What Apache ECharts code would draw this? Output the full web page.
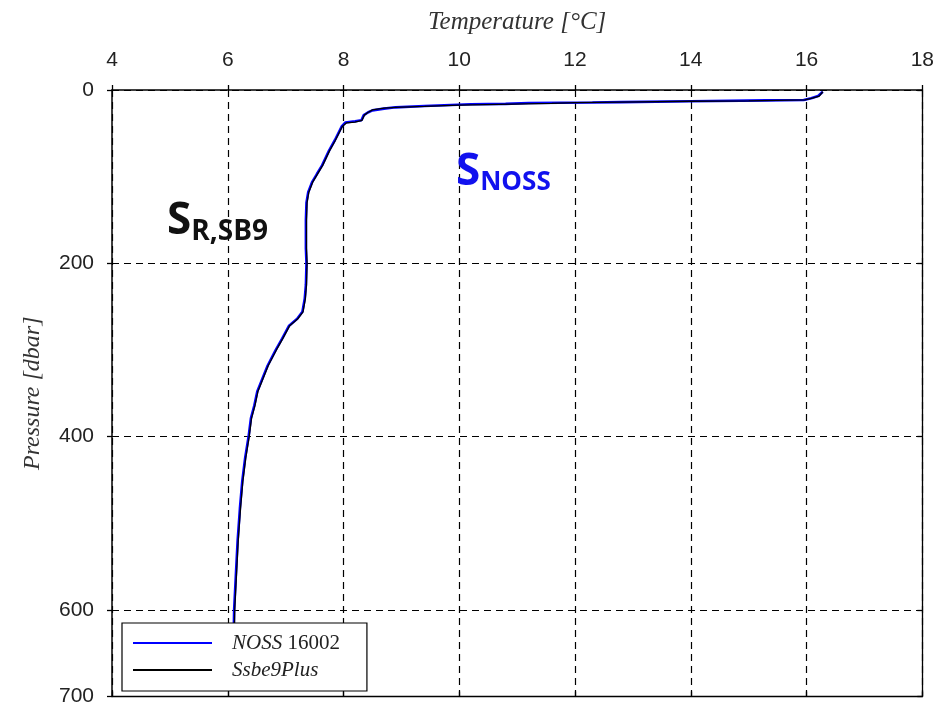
<!DOCTYPE html>
<html>
<head>
<meta charset="utf-8">
<script src="https://cdn.jsdelivr.net/npm/echarts@6/dist/echarts.min.js"></script>
<style>
html,body{margin:0;padding:0;background:#fff;}
#chart{width:937px;height:707px;}
</style>
</head>
<body>
<div id="chart"></div>
<script>
// Tick values
const xTicks = [4, 6, 8, 10, 12, 14, 16, 18];
const yTicks = [0, 200, 400, 600, 700];

// NOSS 16002 profile (blue)
const nossTemp = [16.28, 16.25, 16.20, 16.08, 15.95, 15.30, 14.00, 12.80, 12.30, 11.20, 10.80, 10.20, 9.40, 8.90, 8.70, 8.50, 8.42, 8.35, 8.31, 8.20, 8.03, 7.97, 7.91, 7.85, 7.75, 7.63, 7.54, 7.46, 7.39, 7.36, 7.35, 7.35, 7.36, 7.35, 7.33, 7.29, 7.20, 7.06, 6.94, 6.83, 6.69, 6.60, 6.51, 6.46, 6.40, 6.36, 6.30, 6.25, 6.21, 6.17, 6.14, 6.11, 6.10];
const nossPres = [2, 4, 7, 9.5, 11.5, 12, 13, 14, 14.5, 15, 16, 16.5, 18.5, 20, 21.5, 23.5, 26, 29, 35, 36, 37.5, 42, 50, 58, 70, 87, 97, 106, 118, 130, 150, 183, 200, 225, 241, 256, 264, 272, 287, 300, 318, 333, 348, 364, 379, 400, 425, 452, 483, 521, 560, 600, 640];

// Ssbe9Plus profile (black)
const sbeTemp = [16.28, 16.26, 16.22, 16.10, 15.97, 15.00, 14.00, 12.80, 12.00, 11.60, 10.70, 10.00, 9.40, 8.90, 8.70, 8.50, 8.42, 8.36, 8.32, 8.20, 8.05, 7.98, 7.92, 7.86, 7.76, 7.64, 7.55, 7.47, 7.40, 7.37, 7.36, 7.36, 7.37, 7.36, 7.34, 7.30, 7.21, 7.07, 6.95, 6.84, 6.70, 6.61, 6.52, 6.47, 6.41, 6.37, 6.31, 6.26, 6.22, 6.18, 6.15, 6.12, 6.11];
const sbePres = [2, 4, 7, 9.5, 11.5, 12.5, 13, 14, 14.5, 15.5, 16.5, 17.5, 19, 20, 21, 23, 26, 29, 35, 37, 38, 42, 50, 58, 70, 87, 97, 106, 118, 130, 150, 183, 200, 225, 241, 256, 264, 272, 287, 300, 318, 333, 348, 364, 379, 400, 425, 452, 483, 521, 560, 600, 640];

const toPairs = (t, p) => t.map((v, i) => [v, p[i]]);

const chart = echarts.init(document.getElementById('chart'), null, {renderer: 'canvas'});

const labelFont = {fontFamily: 'Liberation Sans', fontSize: 21, color: '#222'};
const dash = {show: true, lineStyle: {color: '#000', width: 1.2, type: [7, 5]}};

chart.setOption({
  animation: false,
  backgroundColor: '#fff',
  grid: {left: 112, right: 13, top: 90, bottom: 10, show: false},
  xAxis: [
    {
      type: 'value', position: 'top', min: xTicks[0], max: xTicks[xTicks.length - 1], interval: 2,
      name: 'Temperature [°C]', nameLocation: 'middle', nameGap: 55,
      nameTextStyle: {fontFamily: 'Liberation Serif', fontStyle: 'italic', fontSize: 25, color: '#333'},
      axisLine: {show: true, onZero: false, lineStyle: {color: '#000', width: 1.5}},
      axisTick: {show: true, length: 5, lineStyle: {color: '#000', width: 1.3}},
      axisLabel: Object.assign({margin: 19}, labelFont),
      splitLine: dash
    },
    {
      type: 'value', position: 'bottom', min: xTicks[0], max: xTicks[xTicks.length - 1], interval: 2,
      axisLine: {show: true, onZero: false, lineStyle: {color: '#000', width: 1.3}},
      axisTick: {show: true, inside: true, length: 5, lineStyle: {color: '#000', width: 1.3}},
      axisLabel: {show: false},
      splitLine: {show: false}
    }
  ],
  yAxis: [
    {
      type: 'value', inverse: true, position: 'left', min: yTicks[0], max: yTicks[yTicks.length - 1], interval: 200,
      name: 'Pressure [dbar]', nameLocation: 'middle', nameGap: 67, nameRotate: 90,
      nameTextStyle: {fontFamily: 'Liberation Serif', fontStyle: 'italic', fontSize: 24, color: '#333'},
      axisLine: {show: true, onZero: false, lineStyle: {color: '#000', width: 1.5}},
      axisTick: {show: true, length: 5, lineStyle: {color: '#000', width: 1.3}},
      axisLabel: Object.assign({margin: 18}, labelFont),
      splitLine: dash
    },
    {
      type: 'value', inverse: true, position: 'right', min: yTicks[0], max: yTicks[yTicks.length - 1], interval: 200,
      axisLine: {show: true, onZero: false, lineStyle: {color: '#000', width: 1.3}},
      axisTick: {show: true, inside: true, length: 5, lineStyle: {color: '#000', width: 1.3}},
      axisLabel: {show: false},
      splitLine: {show: false}
    }
  ],
  legend: {
    show: true, orient: 'vertical', left: 122, top: 623,
    backgroundColor: '#fff', borderColor: '#000', borderWidth: 1.2,
    padding: [8, 27, 9, 11], itemGap: 3, itemWidth: 79, itemHeight: 2,
    icon: 'rect', selectedMode: false,
    formatter: function (name) {
      if (name === 'NOSS 16002') return '{i|NOSS} {n|16002}';
      return '{i|' + name + '}';
    },
    textStyle: {
      fontFamily: 'Liberation Serif', fontSize: 21, lineHeight: 24, color: '#222',
      rich: {
        i: {fontFamily: 'Liberation Serif', fontStyle: 'italic', fontSize: 21, lineHeight: 24, color: '#222', padding: [0, 0, 0, 15]},
        n: {fontFamily: 'Liberation Serif', fontSize: 21, lineHeight: 24, color: '#222'}
      }
    },
    data: ['NOSS 16002', 'Ssbe9Plus']
  },
  series: [
    {
      name: 'NOSS 16002', type: 'line', xAxisIndex: 0, yAxisIndex: 0,
      showSymbol: false, symbol: 'none',
      lineStyle: {color: '#0000ff', width: 2.6}, itemStyle: {color: '#0000ff'},
      data: toPairs(nossTemp, nossPres), z: 2
    },
    {
      name: 'Ssbe9Plus', type: 'line', xAxisIndex: 0, yAxisIndex: 0,
      showSymbol: false, symbol: 'none',
      lineStyle: {color: '#000', width: 1.3}, itemStyle: {color: '#000'},
      data: toPairs(sbeTemp, sbePres), z: 3
    }
  ],
  graphic: [
    {
      type: 'text', left: 167, top: 199, z: 10,
      style: {
        text: '{s|S}{sub|R,SB9}',
        fill: '#111',
        rich: {
          s: {fontFamily: 'Open Sans', fontWeight: 'bold', fontSize: 44, fill: '#111'},
          sub: {fontFamily: 'Open Sans', fontWeight: 'bold', fontSize: 28, fill: '#111', padding: [22, 0, 0, 0]}
        }
      }
    },
    {
      type: 'text', left: 456, top: 150, z: 10,
      style: {
        text: '{s|S}{sub|NOSS}',
        fill: '#1111ee',
        rich: {
          s: {fontFamily: 'Open Sans', fontWeight: 'bold', fontSize: 44, fill: '#1111ee'},
          sub: {fontFamily: 'Open Sans', fontWeight: 'bold', fontSize: 26, fill: '#1111ee', padding: [22, 0, 0, 0]}
        }
      }
    }
  ]
});
</script>
</body>
</html>
